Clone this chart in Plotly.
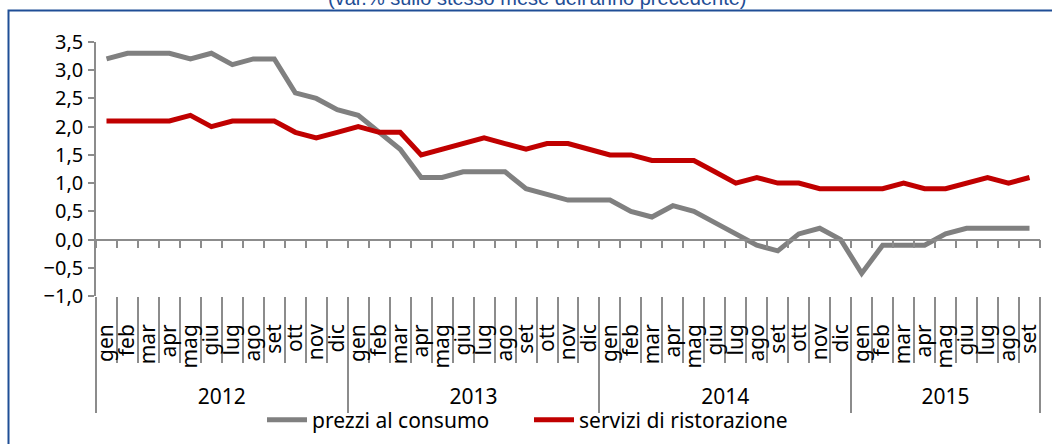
import plotly.graph_objects as go

# ---------------- data ----------------
months = ["gen", "feb", "mar", "apr", "mag", "giu", "lug", "ago", "set", "ott", "nov", "dic"]
years = ["2012", "2013", "2014", "2015"]
months_per_year = [12, 12, 12, 9]

prezzi_al_consumo = [
    3.2, 3.3, 3.3, 3.3, 3.2, 3.3, 3.1, 3.2, 3.2, 2.6, 2.5, 2.3,
    2.2, 1.9, 1.6, 1.1, 1.1, 1.2, 1.2, 1.2, 0.9, 0.8, 0.7, 0.7,
    0.7, 0.5, 0.4, 0.6, 0.5, 0.3, 0.1, -0.1, -0.2, 0.1, 0.2, 0.0,
    -0.6, -0.1, -0.1, -0.1, 0.1, 0.2, 0.2, 0.2, 0.2,
]
servizi_di_ristorazione = [
    2.1, 2.1, 2.1, 2.1, 2.2, 2.0, 2.1, 2.1, 2.1, 1.9, 1.8, 1.9,
    2.0, 1.9, 1.9, 1.5, 1.6, 1.7, 1.8, 1.7, 1.6, 1.7, 1.7, 1.6,
    1.5, 1.5, 1.4, 1.4, 1.4, 1.2, 1.0, 1.1, 1.0, 1.0, 0.9, 0.9,
    0.9, 0.9, 1.0, 0.9, 0.9, 1.0, 1.1, 1.0, 1.1,
]
y_ticks = [-1.0, -0.5, 0.0, 0.5, 1.0, 1.5, 2.0, 2.5, 3.0, 3.5]
series_names = ["prezzi al consumo", "servizi di ristorazione"]
title_text = "(var.% sullo stesso mese dell'anno precedente)"

# ---------------- layout helpers ----------------
W, H = 1052, 444
# plot area in page pixels: x 96..1040, y 42..296
ML, MT = 96, 42
MR = W - 1040
MB = H - 296
PW, PH = W - ML - MR, H - MT - MB
FONT = "Noto Sans"
AXIS_GREY = "#8c8c8c"
BLUE = "#1f4e96"


def px2x(px):
    """page pixel x -> paper x"""
    return (px - ML) / PW


def px2y(py):
    """page pixel y -> paper y"""
    return (H - MB - py) / PH


month_labels = []
for n in months_per_year:
    month_labels += months[:n]
N = len(month_labels)
xs = list(range(N))
bounds = [i - 0.5 for i in range(N + 1)]
year_bounds = [-0.5]
year_centers = []
acc = 0
for n in months_per_year:
    year_centers.append(acc + (n - 1) / 2)
    acc += n
    year_bounds.append(acc - 0.5)

ymin, ymax = y_ticks[0], y_ticks[-1]
zero_pos = (0 - ymin) / (ymax - ymin)

fig = go.Figure()
fig.add_trace(go.Scatter(x=xs, y=prezzi_al_consumo, mode="lines", name=series_names[0],
                         line=dict(color="#808080", width=5)))
fig.add_trace(go.Scatter(x=xs, y=servizi_di_ristorazione, mode="lines", name=series_names[1],
                         line=dict(color="#c00000", width=5)))

xr = [-0.5, N - 0.5]
fig.update_layout(
    width=W, height=H,
    margin=dict(l=ML, r=MR, t=MT, b=MB, autoexpand=False),
    paper_bgcolor="white", plot_bgcolor="white",
    separators=",.",
    font=dict(family=FONT, color="black"),
    showlegend=True,
    legend=dict(orientation="h", x=px2x(262), xanchor="left", y=px2y(420), yanchor="middle",
                font=dict(size=21, family=FONT), bgcolor="rgba(0,0,0,0)",
                itemwidth=40, tracegroupgap=0, entrywidth=212, entrywidthmode="pixels"),
    xaxis=dict(range=xr, showgrid=False, zeroline=False, showline=False,
               tickmode="array", tickvals=bounds, ticks="outside", ticklen=66,
               tickwidth=1.5, tickcolor=AXIS_GREY, showticklabels=False),
    xaxis2=dict(range=xr, overlaying="x", anchor="free", position=zero_pos, side="bottom",
                showgrid=False, zeroline=False, showline=True, linecolor=AXIS_GREY, linewidth=1.5,
                tickmode="array", tickvals=bounds, ticks="outside", ticklen=8,
                tickwidth=1.5, tickcolor=AXIS_GREY, showticklabels=False),
    xaxis3=dict(range=xr, overlaying="x", anchor="y", side="bottom",
                showgrid=False, zeroline=False, showline=False,
                tickmode="array", tickvals=xs, ticktext=month_labels, ticks="",
                tickangle=-90, ticklabelstandoff=23, tickfont=dict(size=21, family=FONT)),
    xaxis4=dict(range=xr, overlaying="x", anchor="y", side="bottom",
                showgrid=False, zeroline=False, showline=False,
                tickmode="array", tickvals=year_bounds, ticks="outside", ticklen=116,
                tickwidth=1.5, tickcolor=AXIS_GREY, showticklabels=False),
    xaxis5=dict(range=xr, overlaying="x", anchor="y", side="bottom",
                showgrid=False, zeroline=False, showline=False,
                tickmode="array", tickvals=year_centers, ticktext=years, ticks="",
                ticklabelstandoff=86, tickfont=dict(size=21, family=FONT)),
    yaxis=dict(range=[ymin, ymax], showgrid=False, zeroline=False, showline=True,
               linecolor=AXIS_GREY, linewidth=1.5, tickmode="array", tickvals=y_ticks,
               tickformat=".1f", ticks="outside", ticklen=6, tickwidth=1.5,
               tickcolor=AXIS_GREY, tickfont=dict(size=20, family=FONT), ticklabelstandoff=1),
)

# dummy traces to activate overlay axes
for ax in ["x2", "x3", "x4", "x5"]:
    fig.add_trace(go.Scatter(x=[None], y=[None], xaxis=ax, yaxis="y", showlegend=False,
                             hoverinfo="skip"))

# outer blue frame
fig.add_shape(type="rect", xref="paper", yref="paper",
              x0=px2x(8.5), x1=px2x(1070), y0=px2y(470), y1=px2y(10.5),
              line=dict(color=BLUE, width=2), fillcolor="rgba(0,0,0,0)", layer="below")

# title (partly cut by the top edge)
fig.add_annotation(text=title_text, xref="paper", yref="paper", x=px2x(537), y=px2y(11),
                   xanchor="center", yanchor="bottom", showarrow=False,
                   font=dict(family="Liberation Sans", size=20, color=BLUE))

fig.write_html("out.html",
               config={"displayModeBar": False},
               post_script="document.body.style.margin='0';document.body.style.overflow='hidden';")
